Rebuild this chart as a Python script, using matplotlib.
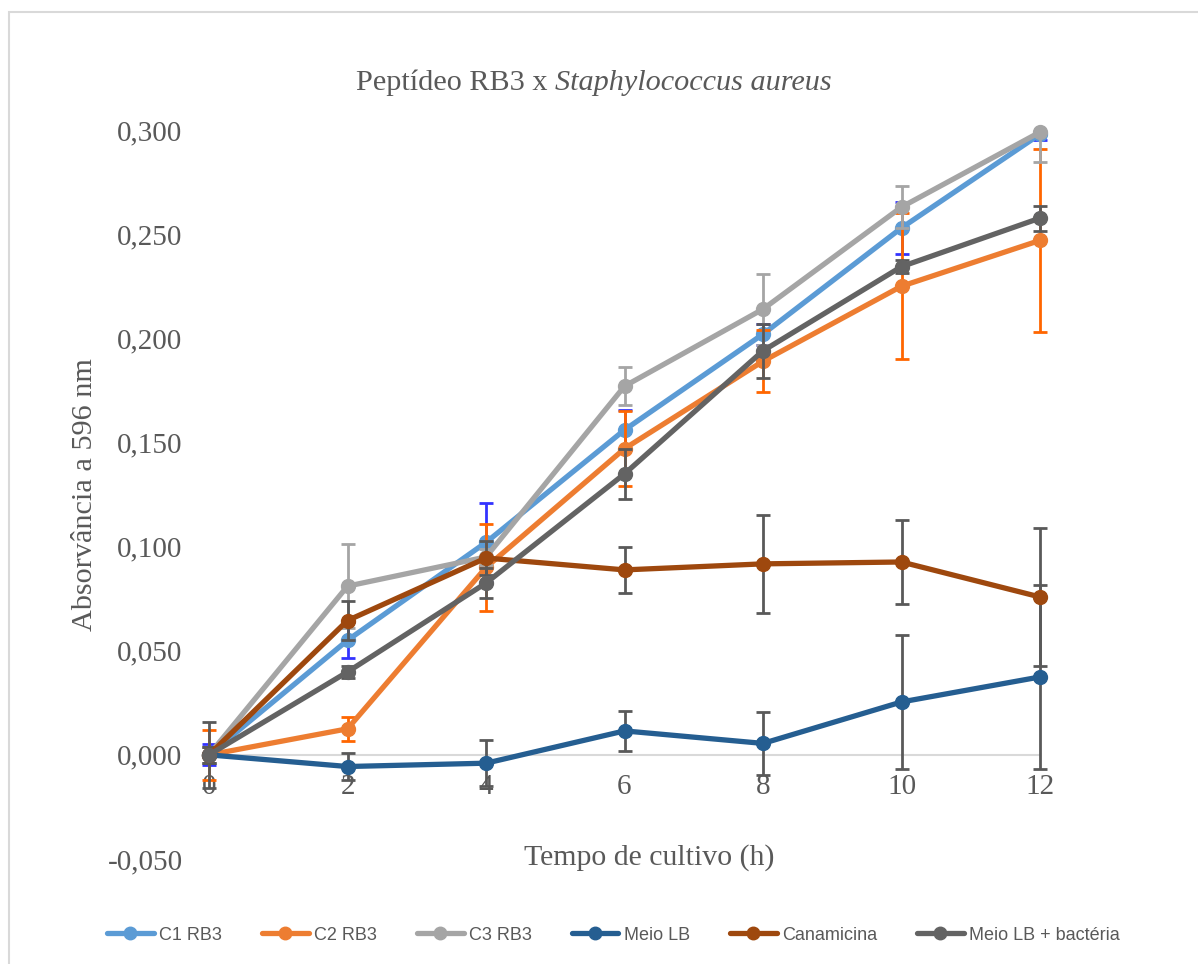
import matplotlib
matplotlib.use('Agg')
import matplotlib.pyplot as plt
from matplotlib.patches import Rectangle

# Tempo de cultivo (h)
tempo = [0, 2, 4, 6, 8, 10, 12]

# Absorvância média a 596 nm de cada grupo
c1_rb3 = [0.000, 0.055, 0.102, 0.156, 0.202, 0.253, 0.298]
c2_rb3 = [0.000, 0.0125, 0.090, 0.147, 0.189, 0.225, 0.247]
c3_rb3 = [0.000, 0.081, 0.095, 0.177, 0.214, 0.263, 0.299]
meio_lb = [0.000, -0.0056, -0.004, 0.0115, 0.0055, 0.0254, 0.0374]
canamicina = [0.000, 0.0645, 0.0945, 0.0888, 0.0917, 0.0926, 0.0758]
meio_lb_bact = [0.000, 0.0398, 0.0825, 0.1349, 0.194, 0.2344, 0.2577]

# Desvio padrão
c1_err = [0.005, 0.0086, 0.019, 0.0097, 0.005, 0.0126, 0.003]
c2_err = [0.012, 0.0057, 0.021, 0.018, 0.015, 0.035, 0.044]
c3_err = [0.004, 0.020, 0.004, 0.009, 0.017, 0.010, 0.0144]
meio_lb_err = [0.004, 0.0064, 0.011, 0.0095, 0.015, 0.032, 0.044]
canamicina_err = [0.004, 0.0095, 0.008, 0.011, 0.0236, 0.020, 0.033]
meio_lb_bact_err = [0.016, 0.003, 0.007, 0.012, 0.013, 0.003, 0.006]

nomes = ['C1 RB3', 'C2 RB3', 'C3 RB3', 'Meio LB', 'Canamicina', 'Meio LB + bactéria']
series = [c1_rb3, c2_rb3, c3_rb3, meio_lb, canamicina, meio_lb_bact]
erros = [c1_err, c2_err, c3_err, meio_lb_err, canamicina_err, meio_lb_bact_err]
cores = ['#5B9BD5', '#ED7D31', '#A5A5A5', '#255E91', '#9E480E', '#636363']
cores_erro = ['#3333FF', '#FF6600', '#A5A5A5', '#595959', '#595959', '#595959']

cinza = '#595959'
serif = ['Liberation Serif', 'DejaVu Serif']

fig = plt.figure(figsize=(11.98, 9.64), dpi=100)
ax = fig.add_axes([209 / 1198, 1 - 859 / 964, 831 / 1198, 729 / 964])

# recorte das barras de erro só no topo do eixo (0,300)
recorte = Rectangle((-0.1, -0.5), 1.2, 1.5, transform=ax.transAxes)

for y, e, nome, cor, cor_e in zip(series, erros, nomes, cores, cores_erro):
    eb = ax.errorbar(tempo, y, yerr=e, fmt='none', ecolor=cor_e, elinewidth=2,
                     capsize=5, capthick=2)
    for art in list(eb[1]) + list(eb[2]):
        art.set_clip_path(recorte)
    ax.plot(tempo, y, color=cor, linewidth=3.8, marker='o', markersize=10,
            label=nome, clip_on=False, solid_capstyle='round')

ax.set_xlim(0, 12)
ax.set_ylim(-0.05, 0.30)
ax.set_xticks(tempo)
ax.set_yticks([-0.05, 0.0, 0.05, 0.10, 0.15, 0.20, 0.25, 0.30])
ax.set_yticklabels(['-0,050', '0,000', '0,050', '0,100', '0,150', '0,200', '0,250', '0,300'])

for s in ['top', 'right', 'left']:
    ax.spines[s].set_visible(False)
ax.spines['bottom'].set_position(('data', 0))
ax.spines['bottom'].set_color('#D9D9D9')
ax.spines['bottom'].set_linewidth(1.5)
ax.spines['bottom'].set_zorder(0)

ax.tick_params(axis='x', length=0, pad=14, labelsize=21, labelcolor=cinza)
ax.tick_params(axis='y', length=0, pad=19, labelsize=21, labelcolor=cinza)
for lab in ax.get_xticklabels() + ax.get_yticklabels():
    lab.set_family(serif)

# título com o nome da espécie em itálico
fig.text(555 / 1198, 1 - 83 / 964, 'Peptídeo RB3 x ', ha='right', va='center',
         fontsize=21.8, color=cinza, family=serif)
fig.text(555 / 1198, 1 - 83 / 964, 'Staphylococcus aureus', ha='left', va='center',
         fontsize=21.8, color=cinza, family=serif, style='italic')

fig.text(649 / 1198, 1 - 858 / 964, 'Tempo de cultivo (h)', ha='center', va='center',
         fontsize=21.5, color=cinza, family=serif)
fig.text(85 / 1198, 1 - 495 / 964, 'Absorvância a 596 nm', ha='center', va='center',
         rotation=90, fontsize=21.8, color=cinza, family=serif)

fig.legend(loc='center', bbox_to_anchor=(0.512, 1 - 935 / 964), ncol=6, frameon=False,
           prop={'family': ['Liberation Sans Narrow', 'Liberation Sans', 'DejaVu Sans'], 'size': 13},
           labelcolor=cinza, handlelength=2.6, handletextpad=0.3, columnspacing=2.2,
           markerscale=0.9)

# moldura da área do gráfico
fig.patches.append(Rectangle((9 / 1198, -0.1), 1.2, 1.1 - 12 / 964, transform=fig.transFigure,
                             fill=False, edgecolor='#D9D9D9', linewidth=1.5))

fig.savefig('out.png', dpi=100)
